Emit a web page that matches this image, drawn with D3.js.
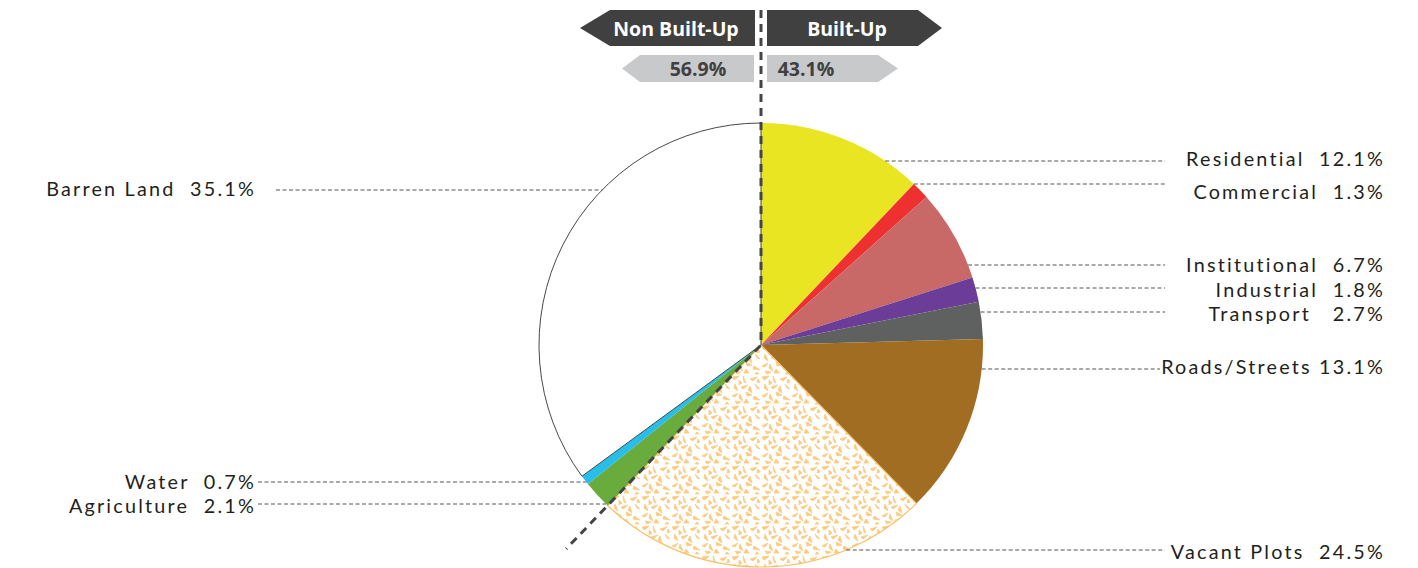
<!DOCTYPE html>
<html><head><meta charset="utf-8">
<script src="https://cdn.jsdelivr.net/npm/d3@7"></script>
<style>
html,body{margin:0;padding:0;background:#fff;}
svg text{white-space:pre;}
</style></head>
<body>
<svg id="chart" width="1418" height="568"></svg>
<script>
const categories = ["Residential","Commercial","Institutional","Industrial","Transport","Roads/Streets","Vacant Plots","Agriculture","Water","Barren Land"];
const values = [12.1,1.3,6.7,1.8,2.7,13.1,24.5,2.1,0.7,35.1];
const labelTexts = ["Residential  12.1%","Commercial  1.3%","Institutional  6.7%","Industrial  1.8%","Transport   2.7%","Roads/Streets 13.1%","Vacant Plots  24.5%","Agriculture  2.1%","Water  0.7%","Barren Land  35.1%"];
const labelBase = [166,199,272,297,321,374,559,513,489,196];
const lineY = [161,184,265,288,312,369,550,504,482,190];
const sides = ["R","R","R","R","R","R","R","L","L","L"];
const groups = ["Non Built-Up","Built-Up"];
const groupShares = ["56.9%","43.1%"];
const colors = ["#e9e523","#ee3130","#c86867","#6b3c98","#5e6160","#a06d22","url(#vacant)","#6aab3e","#27bfea","#ffffff"];

const svg = d3.select("#chart");
const cx = 761, cy = 345, R = 222;
const defs = svg.append("defs");
const pat = defs.append("pattern").attr("id","vacant").attr("patternUnits","userSpaceOnUse").attr("width",30).attr("height",30);
pat.append("rect").attr("width",30).attr("height",30).attr("fill","#fff");
const flecks = ["M1,2 L8,1 L6,3 L3,5 Z","M12,1 L15,8 L13,7 Z","M19,4 L26,2 L22,6 Z","M4,9 L7,16 L3,13 Z","M10,12 L17,10 L12,14 Z","M19,11 L21,18 L17,15 Z","M24,9 L29,14 L26,13 Z","M1,21 L7,18 L4,22 Z","M9,19 L12,26 L8,23 Z","M15,17 L21,20 L16,21 Z","M23,21 L29,25 L22,24 Z","M4,26 L10,27 L6,29 Z","M15,24 L18,28 L13,28 Z","M8,5 L11,8 L8,10 Z","M26,27 L28,29 L24,29 Z","M27,4 L29,7 L26,8 Z"];
flecks.forEach(p=>pat.append("path").attr("d",p).attr("fill","#fcca80").attr("stroke","#fcca80").attr("stroke-width",0.8).attr("stroke-linejoin","round"));

const pie = d3.pie().sort(null).value(d=>d);
const arcs = pie(values);
const arc = d3.arc().innerRadius(0).outerRadius(R);
const g = svg.append("g").attr("transform",`translate(${cx},${cy})`);
g.selectAll("path.slice").data(arcs).join("path").attr("class","slice")
  .attr("d",arc).attr("fill",(d,i)=>colors[i])
  .attr("stroke",(d,i)=> i===9 ? "#333" : (i===6 ? "#f8c06a" : "none"))
  .attr("stroke-width",(d,i)=> i===9 ? 0.9 : 1.2);

const font = "Lato, 'Open Sans', sans-serif";
const lineCol = "#555";
arcs.forEach((d,i)=>{
  const y = lineY[i]-cy;
  const dx = Math.sqrt(Math.max(0,R*R-y*y));
  let x1, x2, tx;
  if(sides[i]==="R"){ x1 = cx+dx; x2 = i===5 ? 1160 : 1165; tx = 1385; }
  else { x1 = i===9 ? 276 : 258; x2 = cx-dx; tx = 256; }
  svg.append("line").attr("x1",x1).attr("x2",x2).attr("y1",lineY[i]).attr("y2",lineY[i])
    .attr("stroke",lineCol).attr("stroke-width",1).attr("stroke-dasharray","4,2.5");
  svg.append("text").attr("x",tx).attr("y",labelBase[i]).attr("text-anchor","end")
    .attr("font-family",font).attr("font-size",19.8).attr("letter-spacing",2.2).attr("fill","#231f20").text(labelTexts[i]);
});

const divAngle = arcs[6].endAngle;
const ext = 282;
svg.append("path")
  .attr("d",`M${cx},10 L${cx},${cy} L${cx+ext*Math.sin(divAngle)},${cy-ext*Math.cos(divAngle)}`)
  .attr("fill","none").attr("stroke","#444").attr("stroke-width",3).attr("stroke-dasharray","8,6");

const dark = "#404041", light = "#c8c9cb";
svg.append("path").attr("d","M610,10 L755,10 L755,46 L610,46 L580,28 Z").attr("fill",dark);
svg.append("path").attr("d","M767,10 L918,10 L942,28 L918,46 L767,46 Z").attr("fill",dark);
svg.append("path").attr("d","M640,55 L754,55 L754,82 L640,82 L622,68.5 Z").attr("fill",light);
svg.append("path").attr("d","M767,55 L878,55 L898,68.5 L878,82 L767,82 Z").attr("fill",light);
const bt = (x,y,t,c)=>svg.append("text").attr("x",x).attr("y",y).attr("text-anchor","middle").attr("dominant-baseline","central")
  .attr("font-family","'Open Sans', sans-serif").attr("font-weight","bold").attr("font-size",19.5).attr("fill",c).text(t);
bt(676,28.5,groups[0],"#fff");
bt(847,28.5,groups[1],"#fff");
bt(698,68,groupShares[0],"#404041");
bt(806,68,groupShares[1],"#404041");
</script>
</body></html>
